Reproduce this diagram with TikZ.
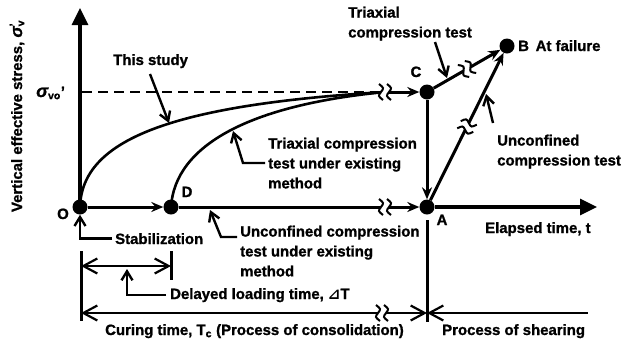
\documentclass[tikz,border=0pt]{standalone}
\usepackage{fontspec}
\setmainfont{Liberation Sans}[BoldFeatures={FakeBold=1.2},BoldItalicFeatures={FakeBold=1.2}]
\newfontfamily\djv{DejaVu Sans}
\usetikzlibrary{arrows.meta}
\begin{document}
\begin{tikzpicture}[x=1bp,y=-1bp,
  every node/.style={font=\fontsize{15}{20}\selectfont\bfseries,inner sep=0pt},
  dot/.style={circle,fill=black,inner sep=0pt,minimum size=15bp},
  axis/.style={line width=3.2bp,-{Triangle[length=17bp,width=16bp]}},
  flow/.style={line width=3bp,-{Stealth[length=12bp,width=10bp,inset=4bp]}},
  curve/.style={line width=2.6bp},
  leader/.style={line width=2.4bp,-{Straight Barb[length=9bp,width=11bp]}},
  dim/.style={line width=2.2bp},
  dimboth/.style={dim,{Straight Barb[length=14bp,width=15bp]}-{Straight Barb[length=14bp,width=15bp]}},
  dimleft/.style={dim,{Straight Barb[length=14bp,width=15bp]}-},
  brk/.pic={
    \fill[white] (-4,-4.5) rectangle (4,4.5);
    \draw[line width=2bp] (-6,-8) .. controls (-1,-4) .. (-4,0) .. controls (-7,4) .. (-2,8);
    \draw[line width=2bp] (2,-8) .. controls (7,-4) .. (4,0) .. controls (1,4) .. (6,8);
  }
]
\useasboundingbox (0,0) rectangle (634,345);

% main points
\node[dot] (O) at (80,207) {};
\node[dot] (D) at (171,207) {};
\node[dot] (A) at (427,207) {};
\node[dot] (C) at (427,92) {};
\node[dot] (B) at (507,46) {};

% axes
\coordinate (ytop) at (80,8);
\coordinate (xend) at (597,207);
\draw[axis] (O.center) -- (ytop);
\draw[axis] (A) -- (xend);

% sigma_vo' level and curves
\coordinate (sv) at (82,92);
\coordinate (bU) at (385,92);
\draw[line width=2.8bp,dash pattern=on 10bp off 6bp] (sv) -- (bU);
\draw[curve] (O.center) .. controls (82,140) and (170,105) .. (bU);
\draw[curve] (D.center) .. controls (175,145) and (250,105) .. (bU);

% flow arrows
\coordinate (bL) at (385,207);
\draw[flow] (bU) -- (C);
\draw[flow] (O) -- (D);
\draw[flow] (D) -- (A);
\draw[flow] (C) -- (A);
\draw[flow] (A) -- (B);
\draw[flow] (C) -- (B);

% breaks
\path (C) -- (B) coordinate[pos=0.5] (bCB);
\path (A) -- (B) coordinate[pos=0.5] (bAB);
\pic at (bU) {brk};
\pic at (bL) {brk};
\pic[rotate=29.4] at (bCB) {brk};
\pic[rotate=63.6] at (bAB) {brk};

% time dimensions
\coordinate (cL) at (81,313);
\coordinate (cM) at (427,313);
\coordinate (cR) at (588,313);
\coordinate (bC) at (382,313);
\draw[dimboth] (cL) -- (cM);
\draw[dimleft] (cM) -- (cR);
\pic at (bC) {brk};
\coordinate (vA1) at (427,220);
\coordinate (vA2) at (427,322);
\draw[line width=3bp] (vA1) -- (vA2);
\coordinate (vO1) at (81,251);
\coordinate (vO2) at (81,321);
\draw[line width=3bp] (vO1) -- (vO2);
\coordinate (dlL) at (81,266);
\coordinate (dlR) at (171,266);
\coordinate (tk1) at (171,251);
\coordinate (tk2) at (171,280);
\draw[dimboth] (dlL) -- (dlR);
\draw[line width=3bp] (tk1) -- (tk2);

% labels of points
\node[anchor=base] (Ol) at (63,219) {O};
\node[anchor=base] (Dl) at (187,197) {D};
\node[anchor=base] (Al) at (442,225) {A};
\node[anchor=base] (Cl) at (416,77) {C};
\node[anchor=base west] (Bl) at (518,51) {B\hspace{0.45em}At failure};
\node[anchor=base west] (svl) at (36,97) {{\fontsize{18}{20}\selectfont\itshape σ}\textsubscript{vo}’};
\node[rotate=90] (ylab) at (17,116) {Vertical effective stress, {\fontsize{17}{20}\selectfont\itshape σ}\rlap{\textsuperscript{’}}\textsubscript{v}};
\node[anchor=base west] (el) at (485,233) {Elapsed time, t};

% texts with leaders
\node[anchor=base west] (ts) at (113,65) {This study};
\coordinate (tsS) at (150,74);
\coordinate (tsT) at (169,123);
\draw[leader] (tsS) -- (tsT);

\node[anchor=north west,align=left] (tt) at (348,6.5) {Triaxial\\compression test};
\coordinate (ttS) at (435,42);
\coordinate (ttT) at (447,78);
\draw[leader] (ttS) -- (ttT);

\node[anchor=north west,align=left] (ur) at (497,134.5) {Unconfined\\compression test};
\coordinate (urS) at (493,123);
\coordinate (urT) at (486,94);
\draw[leader] (urS) -- (urT);

\node[anchor=north west,align=left] (te) at (268,137.5) {Triaxial compression\\test under existing\\method};
\coordinate (teS) at (265,163);
\coordinate (teK) at (243,163);
\coordinate (teT) at (233,131);
\draw[leader] (teS) -- (teK) -- (teT);

\node[anchor=north west,align=left] (uc) at (240,225.5) {Unconfined compression\\test under existing\\method};
\coordinate (ucS) at (237,237);
\coordinate (ucK) at (221,237);
\coordinate (ucT) at (210,210);
\draw[leader] (ucS) -- (ucK) -- (ucT);

\node[anchor=base west] (stab) at (115,244) {Stabilization};
\draw[leader] ([xshift=-3bp]stab.west) -| (O);

\node[anchor=base west] (dl) at (170,299) {Delayed loading time, {\djv\bfseries ⊿}T};
\coordinate (dlT) at (127,269);
\draw[leader] ([xshift=-4bp]dl.west) -| (dlT);

\node[anchor=base west] (cu) at (105,335) {Curing time, T\textsubscript{c} (Process of consolidation)};
\node[anchor=base west] (ps) at (442,335) {Process of shearing};
\end{tikzpicture}
\end{document}
